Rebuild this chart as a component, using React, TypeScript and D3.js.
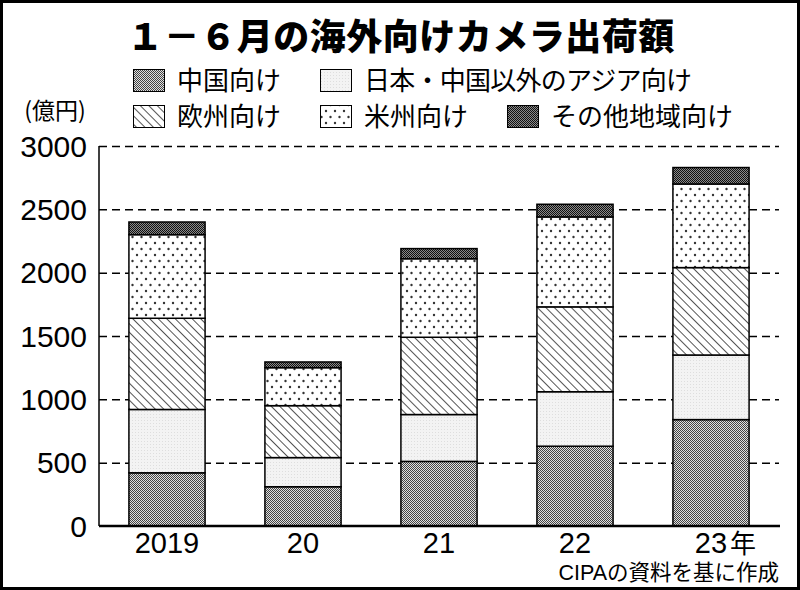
import { useEffect, useRef } from 'react'
import * as d3 from 'd3'

const TITLE = '１－６月の海外向けカメラ出荷額'
const UNIT = '(億円)'
const SOURCE = 'CIPAの資料を基に作成'

const YEARS = ['2019', '20', '21', '22', '23']
const YEAR_SUFFIX = '年'
const CHINA = [420, 310, 510, 630, 840]
const ASIA = [500, 230, 370, 430, 510]
const EUROPE = [720, 410, 610, 670, 690]
const AMERICAS = [660, 300, 620, 710, 660]
const OTHER = [100, 45, 80, 100, 130]
const Y_TICKS = [0, 500, 1000, 1500, 2000, 2500, 3000]

const SERIES_KEYS = ['china', 'asia', 'europe', 'americas', 'other']
const SERIES_NAMES = ['中国向け', '日本・中国以外のアジア向け', '欧州向け', '米州向け', 'その他地域向け']

const W = 800
const H = 590
const PLOT = { left: 99, right: 779, top: 146, bottom: 526 }
const JP = '"Noto Sans CJK JP", sans-serif'
const NUM = '"Liberation Sans", Arial, "Noto Sans CJK JP", sans-serif'

export default function App() {
  const svgRef = useRef<SVGSVGElement>(null)

  useEffect(() => {
    const svg = d3.select(svgRef.current!)
    svg.selectAll('*').remove()

    // ── Patterns ────────────────────────────────────────────────────────────
    const defs = svg.append('defs')

    const china = defs.append('pattern').attr('id', 'p-china')
      .attr('patternUnits', 'userSpaceOnUse').attr('width', 2).attr('height', 2)
    china.append('rect').attr('width', 2).attr('height', 2).attr('fill', '#e0e0e0')
    china.append('rect').attr('width', 1).attr('height', 1).attr('fill', '#444')
    china.append('rect').attr('x', 1).attr('y', 1).attr('width', 1).attr('height', 1).attr('fill', '#444')

    const other = defs.append('pattern').attr('id', 'p-other')
      .attr('patternUnits', 'userSpaceOnUse').attr('width', 2).attr('height', 2)
    other.append('rect').attr('width', 2).attr('height', 2).attr('fill', '#8a8a8a')
    other.append('rect').attr('width', 1).attr('height', 1).attr('fill', '#111')
    other.append('rect').attr('x', 1).attr('y', 1).attr('width', 1).attr('height', 1).attr('fill', '#111')

    const asia = defs.append('pattern').attr('id', 'p-asia')
      .attr('patternUnits', 'userSpaceOnUse').attr('width', 3).attr('height', 3)
    asia.append('rect').attr('width', 3).attr('height', 3).attr('fill', '#f3f3f3')
    asia.append('rect').attr('width', 1).attr('height', 1).attr('fill', '#dedede')

    const europe = defs.append('pattern').attr('id', 'p-europe')
      .attr('patternUnits', 'userSpaceOnUse').attr('width', 6).attr('height', 6)
      .attr('patternTransform', 'rotate(-45)')
    europe.append('rect').attr('width', 6).attr('height', 6).attr('fill', '#fff')
    europe.append('line').attr('x1', 0.5).attr('x2', 0.5).attr('y1', 0).attr('y2', 6)
      .attr('stroke', '#555').attr('stroke-width', 1)

    const americas = defs.append('pattern').attr('id', 'p-americas')
      .attr('patternUnits', 'userSpaceOnUse').attr('width', 9).attr('height', 12)
    americas.append('rect').attr('width', 9).attr('height', 12).attr('fill', '#fff')
    americas.append('circle').attr('cx', 2).attr('cy', 3).attr('r', 1.2).attr('fill', '#333')
    americas.append('circle').attr('cx', 6.5).attr('cy', 9).attr('r', 1.2).attr('fill', '#333')

    const fillOf = (k: string) => `url(#p-${k})`

    // ── Frame ───────────────────────────────────────────────────────────────
    svg.append('rect').attr('x', 1.5).attr('y', 1.5).attr('width', W - 3).attr('height', H - 3)
      .attr('fill', '#fff').attr('stroke', '#000').attr('stroke-width', 3)

    // ── Title ───────────────────────────────────────────────────────────────
    svg.append('text')
      .attr('x', 401).attr('y', 50).attr('text-anchor', 'middle')
      .attr('font-family', JP).attr('font-weight', 900).attr('font-size', 36)
      .attr('letter-spacing', 0.5)
      .text(TITLE)

    // ── Legend ──────────────────────────────────────────────────────────────
    const legendPos = [
      { x: 133, y: 69 }, { x: 320, y: 69 },
      { x: 133, y: 105 }, { x: 320, y: 105 }, { x: 507, y: 105 },
    ]
    SERIES_KEYS.forEach((k, i) => {
      const p = legendPos[i]
      svg.append('rect').attr('x', p.x + 0.5).attr('y', p.y + 0.5).attr('width', 31).attr('height', 22)
        .attr('fill', fillOf(k)).attr('stroke', '#000').attr('stroke-width', 1)
      svg.append('text').attr('x', p.x + 44).attr('y', p.y + 21)
        .attr('font-family', JP).attr('font-size', 26)
        .attr('textLength', i === 1 ? 328 : null)
        .text(SERIES_NAMES[i])
    })

    // ── Scales ──────────────────────────────────────────────────────────────
    const x = d3.scaleBand<string>().domain(YEARS).range([PLOT.left, PLOT.right])
      .paddingInner(0.44).paddingOuter(0.22)
    const y = d3.scaleLinear().domain([0, 3000]).range([PLOT.bottom, PLOT.top])

    // ── Grid ────────────────────────────────────────────────────────────────
    const g = svg.append('g')
    g.append('g')
      .attr('transform', `translate(${PLOT.left},0)`)
      .call(d3.axisLeft(y).tickValues(Y_TICKS.filter(t => t > 0)).tickSize(-(PLOT.right - PLOT.left)).tickFormat(() => ''))
      .call(ag => ag.select('.domain').remove())
      .call(ag => ag.selectAll('.tick line')
        .attr('stroke', '#000').attr('stroke-width', 1.5).attr('stroke-dasharray', '8,5'))

    // ── Bars ────────────────────────────────────────────────────────────────
    const rows = YEARS.map((yr, i) => ({
      year: yr, china: CHINA[i], asia: ASIA[i], europe: EUROPE[i], americas: AMERICAS[i], other: OTHER[i],
    }))
    const stacked = d3.stack<any>().keys(SERIES_KEYS)(rows)
    stacked.forEach(layer => {
      g.append('g').selectAll('rect').data(layer).join('rect')
        .attr('x', d => x(d.data.year)!)
        .attr('width', x.bandwidth())
        .attr('y', d => y(d[1]))
        .attr('height', d => y(d[0]) - y(d[1]))
        .attr('fill', fillOf(layer.key))
        .attr('stroke', '#000').attr('stroke-width', 1.5)
    })

    // ── Axes ────────────────────────────────────────────────────────────────
    g.append('line').attr('x1', PLOT.left).attr('x2', PLOT.left)
      .attr('y1', PLOT.top).attr('y2', PLOT.bottom).attr('stroke', '#000').attr('stroke-width', 1.5)
    g.append('line').attr('x1', PLOT.left).attr('x2', PLOT.right + 1)
      .attr('y1', PLOT.bottom).attr('y2', PLOT.bottom).attr('stroke', '#000').attr('stroke-width', 2.5)

    Y_TICKS.forEach(t => {
      g.append('text').attr('x', 87).attr('y', y(t)).attr('dy', '0.36em')
        .attr('text-anchor', 'end').attr('font-family', NUM).attr('font-size', 30)
        .text(t)
    })
    svg.append('text').attr('x', 55).attr('y', 119).attr('text-anchor', 'middle')
      .attr('font-family', JP).attr('font-size', 23)
      .text(UNIT)

    YEARS.forEach((yr, i) => {
      const cx = x(yr)! + x.bandwidth() / 2
      g.append('text').attr('x', cx).attr('y', 553).attr('text-anchor', 'middle')
        .attr('font-family', NUM).attr('font-size', 29)
        .text(yr)
      if (i === YEARS.length - 1) {
        g.append('text').attr('x', cx + 19).attr('y', 553)
          .attr('font-family', JP).attr('font-size', 26)
          .text(YEAR_SUFFIX)
      }
    })

    svg.append('text').attr('x', 779).attr('y', 580).attr('text-anchor', 'end')
      .attr('font-family', NUM).attr('font-size', 21.5)
      .text(SOURCE)
  }, [])

  return (
    <div style={{ position: 'fixed', left: 0, top: 0 }}>
      <svg ref={svgRef} width={W} height={H} style={{ display: 'block' }} />
    </div>
  )
}
